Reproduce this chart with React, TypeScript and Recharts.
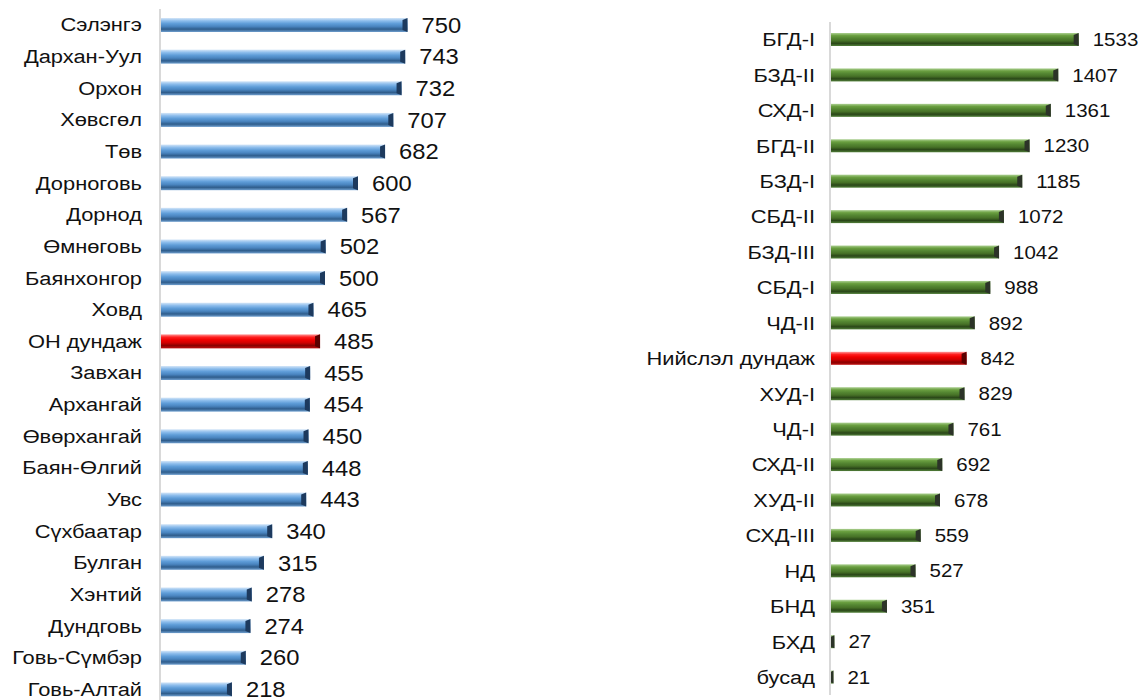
import { Bar, BarChart, LabelList, XAxis, YAxis } from 'recharts';

// аймгууд
const aimagNames = [
  'Сэлэнгэ', 'Дархан-Уул', 'Орхон', 'Хөвсгөл', 'Төв', 'Дорноговь', 'Дорнод', 'Өмнөговь',
  'Баянхонгор', 'Ховд', 'ОН дундаж', 'Завхан ', 'Архангай', 'Өвөрхангай', 'Баян-Өлгий', 'Увс',
  'Сүхбаатар', 'Булган', 'Хэнтий', 'Дундговь', 'Говь-Сүмбэр', 'Говь-Алтай',
];
const aimagValues = [750, 743, 732, 707, 682, 600, 567, 502, 500, 465, 485, 455, 454, 450, 448, 443, 340, 315, 278, 274, 260, 218];

// нийслэлийн бүсүүд
const cityNames = [
  'БГД-I', 'БЗД-II', 'СХД-I', 'БГД-II', 'БЗД-I', 'СБД-II', 'БЗД-III', 'СБД-I', 'ЧД-II',
  'Нийслэл дундаж ', 'ХУД-I', 'ЧД-I', 'СХД-II', 'ХУД-II', 'СХД-III', 'НД', 'БНД', 'БХД', 'бусад',
];
const cityValues = [1533, 1407, 1361, 1230, 1185, 1072, 1042, 988, 892, 842, 829, 761, 692, 678, 559, 527, 351, 27, 21];

const averageNames = ['ОН дундаж', 'Нийслэл дундаж '];

const FONT = '"Liberation Sans", Arial, sans-serif';

const tones: Record<string, { id: string; stops: string[]; cap: string }> = {
  blue: { id: 'g-blue', stops: ['#d4e6f8', '#8dbdec', '#5f9dd8', '#4a85c0', '#2f5d8c', '#6f9fcf'], cap: '#1d3a5e' },
  red: { id: 'g-red', stops: ['#ff9a9a', '#ff2020', '#f00000', '#d00000', '#8a0000', '#c01010'], cap: '#5a0000' },
  green: { id: 'g-green', stops: ['#acd092', '#6a9f40', '#548632', '#477227', '#2a4718', '#52803a'], cap: '#2c3328' },
};

const Gradients = () => (
  <defs>
    {Object.values(tones).map((t) => (
      <linearGradient key={t.id} id={t.id} x1="0" y1="0" x2="0" y2="1">
        {t.stops.map((c, i) => (
          <stop key={i} offset={`${(i / (t.stops.length - 1)) * 100}%`} stopColor={c} />
        ))}
      </linearGradient>
    ))}
  </defs>
);

// бевелтэй 3D багана
const Bar3D = (props: any) => {
  const { x, y, width, height, tone } = props;
  if (!width || width <= 0) return null;
  const t = tones[tone];
  const cap = Math.min(5, width);
  const r = x + width;
  return (
    <g>
      <rect x={x} y={y} width={width} height={height} fill={`url(#${t.id})`} />
      <polygon
        points={`${r - cap},${y + 2} ${r},${y} ${r},${y + height} ${r - cap},${y + height - 2}`}
        fill={t.cap}
      />
    </g>
  );
};

// зураг хэвтээ чиглэлд бага зэрэг сунгасан тул текстийг scaleX-ээр сунгана
const NameTick = ({ x, y, payload, size }: any) => (
  <text
    transform={`translate(${x},${y}) scale(1.15,1)`}
    textAnchor="end"
    dy="0.35em"
    fill="#111"
    fontSize={size}
    fontFamily={FONT}
  >
    {payload.value}
  </text>
);

const valueLabel = (size: number, gap: number) => (p: any) => (
  <text
    transform={`translate(${p.x + p.width + gap},${p.y + p.height / 2}) scale(1.08,1)`}
    dy="0.35em"
    fill="#111"
    fontSize={size}
    fontFamily={FONT}
  >
    {p.value}
  </text>
);

const leftData = aimagNames.map((name, i) => ({ name, value: aimagValues[i] }));
const rightData = cityNames.map((name, i) => ({ name, value: cityValues[i] }));

const App = () => {
  return (
    <div style={{ position: 'absolute', left: 0, top: 0, width: 1142, height: 700, overflow: 'hidden', background: '#fff' }}>
      <div style={{ position: 'absolute', left: 0, top: 9 }}>
        <BarChart width={504} height={696} data={leftData} layout="vertical" margin={{ top: 0, right: 80, bottom: 0, left: 0 }}>
          <Gradients />
          <XAxis type="number" domain={[0, 800]} hide />
          <YAxis
            type="category"
            dataKey="name"
            width={160}
            interval={0}
            tickLine={false}
            tickSize={0}
            tickMargin={18}
            axisLine={{ stroke: '#d9d9d9', strokeWidth: 2 }}
            tick={<NameTick size={19} />}
          />
          <Bar dataKey="value" barSize={14} isAnimationActive={false}
            shape={(p: any) => <Bar3D {...p} tone={averageNames.includes(p.payload.name) ? 'red' : 'blue'} />}>
            <LabelList dataKey="value" content={valueLabel(22, 14)} />
          </Bar>
        </BarChart>
      </div>
      <div style={{ position: 'absolute', left: 600, top: 22 }}>
        <BarChart width={592} height={673} data={rightData} layout="vertical" margin={{ top: 0, right: 70, bottom: 0, left: 0 }}>
          <Gradients />
          <XAxis type="number" domain={[0, 1800]} hide />
          <YAxis
            type="category"
            dataKey="name"
            width={230}
            interval={0}
            tickLine={false}
            tickSize={0}
            tickMargin={15}
            axisLine={{ stroke: '#d9d9d9', strokeWidth: 2 }}
            tick={<NameTick size={19} />}
          />
          <Bar dataKey="value" barSize={13} isAnimationActive={false}
            shape={(p: any) => <Bar3D {...p} tone={averageNames.includes(p.payload.name) ? 'red' : 'green'} />}>
            <LabelList dataKey="value" content={valueLabel(19, 14)} />
          </Bar>
        </BarChart>
      </div>
    </div>
  );
};

export default App;
